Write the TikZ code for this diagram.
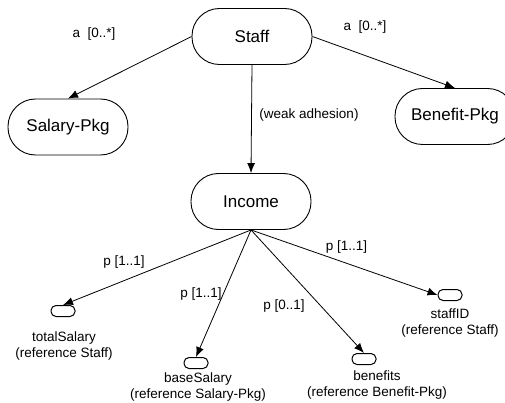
\documentclass[tikz,border=0pt]{standalone}
\usepackage{fontspec}
\setmainfont{Liberation Sans}
\usetikzlibrary{arrows.meta}
\begin{document}
\begin{tikzpicture}[x=1pt,y=-1pt,
  big/.style={draw, fill=white, rounded corners=27.5pt, minimum width=120pt, minimum height=56pt,
    font=\fontsize{17}{20}\selectfont, inner sep=0pt, line width=0.9pt},
  attr/.style={draw, fill=white, rounded corners=5pt, minimum width=24pt, minimum height=11pt,
    inner sep=0pt, line width=1pt},
  lbl/.style={font=\fontsize{13.5}{15.5}\selectfont, inner sep=0pt},
  txt/.style={font=\fontsize{13.5}{16}\selectfont, align=center, inner sep=0pt},
  conn/.style={-{Latex[length=10pt,width=8pt]}, line width=0.8pt}]
\useasboundingbox (0,0) rectangle (505,403);
\node[big] (staff) at (252,36.5) {Staff};
\node[big] (salary) at (68,127) {Salary-Pkg};
\node[big] (benefit) at (455,116.5) {Benefit-Pkg};
\node[big] (income) at (251,201.5) {Income};
\node[attr] (total) at (63,311) {};
\node[attr] (base) at (196,363) {};
\node[attr] (bene) at (364,359) {};
\node[attr] (sid) at (450,295) {};
\draw[conn] (staff.west) -- (salary.north);
\draw[conn] (staff.east) -- (benefit.north);
\draw[conn] (staff.south) -- (income.north);
\draw[conn] (income.south) -- (total.north);
\draw[conn] (income.south) -- (base.north);
\draw[conn] (income.south) -- (bene.north);
\draw[conn] (income.south) -- (sid.west);
\node[lbl] (la1) at (94,34) {a\ \ [0..*]};
\node[lbl] (la2) at (365,27) {a\ \ [0..*]};
\node[lbl] (lw) at (309,115) {(weak adhesion)};
\node[lbl] (lp1) at (124,262) {p [1..1]};
\node[lbl] (lp2) at (201,294) {p [1..1]};
\node[lbl] (lp3) at (284,306) {p [0..1]};
\node[lbl] (lp4) at (346.5,247) {p [1..1]};
\node[txt] (tt) at (64,346.5) {totalSalary\\(reference Staff)};
\node[txt] (tb) at (198,387.5) {baseSalary\\(reference Salary-Pkg)};
\node[txt] (tn) at (377,385.5) {benefits\\(reference Benefit-Pkg)};
\node[txt] (ts) at (450,323) {staffID\\(reference Staff)};
\end{tikzpicture}
\end{document}
